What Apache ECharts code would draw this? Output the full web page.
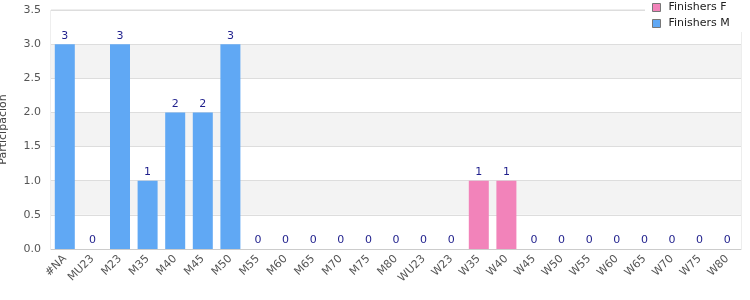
<!DOCTYPE html>
<html><head><meta charset="utf-8">
<script src="https://cdn.jsdelivr.net/npm/echarts@6/dist/echarts.min.js"></script>
<style>html,body{margin:0;padding:0;background:#fff}#c{width:750px;height:300px}</style>
</head><body><div id="c"></div>
<script>
const categories = ['#NA','MU23','M23','M35','M40','M45','M50','M55','M60','M65','M70','M75','M80','WU23','W23','W35','W40','W45','W50','W55','W60','W65','W70','W75','W80'];
const finishersF = [null,null,null,null,null,null,null,null,null,null,null,null,null,null,null,1,1,null,null,null,null,null,null,null,null];
const finishersM = [3,0,3,1,2,2,3,0,0,0,0,0,0,0,0,null,null,0,0,0,0,0,0,0,0];
const yTicks = {min:0, max:3.5, interval:0.5};

const font = 'DejaVu Sans';
const label = {show:true, position:'top', color:'#1f1f8c', fontSize:11, fontFamily:font, distance:3};
const chart = echarts.init(document.getElementById('c'), null, {renderer:'canvas'});
chart.setOption({
  animation:false,
  grid:{left:51, right:9, top:10, bottom:51, show:true, borderColor:'#dcdcdc', borderWidth:1, containLabel:false, outerBoundsMode:'none'},
  legend:{
    orient:'vertical', left:645, top:0, padding:[2,14,3,7], itemGap:5,
    itemWidth:8, itemHeight:8, backgroundColor:'#fff',
    itemStyle:{borderColor:'#777', borderWidth:1},
    textStyle:{fontFamily:font, fontSize:11, color:'#222', padding:[0,0,0,3]},
    data:[{name:'Finishers F', icon:'rect'},{name:'Finishers M', icon:'rect'}]
  },
  xAxis:{
    type:'category', data:categories,
    axisLine:{lineStyle:{color:'#cccccc'}}, axisTick:{show:false},
    axisLabel:{rotate:45, interval:0, color:'#555', fontSize:11, fontFamily:font, margin:8}
  },
  yAxis:{
    type:'value', min:yTicks.min, max:yTicks.max, interval:yTicks.interval,
    name:'Participacion', nameLocation:'middle', nameGap:42, nameRotate:90,
    nameTextStyle:{fontFamily:font, fontSize:11, color:'#444'},
    axisLine:{show:false}, axisTick:{show:false},
    axisLabel:{color:'#555', fontSize:11, fontFamily:font, margin:10, formatter:v=>v.toFixed(1)},
    splitLine:{lineStyle:{color:'#dddddd'}},
    splitArea:{show:true, areaStyle:{color:['#ffffff','#f3f3f3']}}
  },
  series:[
    {name:'Finishers F', type:'bar', stack:'t', data:finishersF, barWidth:20, itemStyle:{color:'#f283ba'}, label},
    {name:'Finishers M', type:'bar', stack:'t', data:finishersM, barWidth:20, itemStyle:{color:'#60a8f4'}, label}
  ]
});
</script></body></html>
